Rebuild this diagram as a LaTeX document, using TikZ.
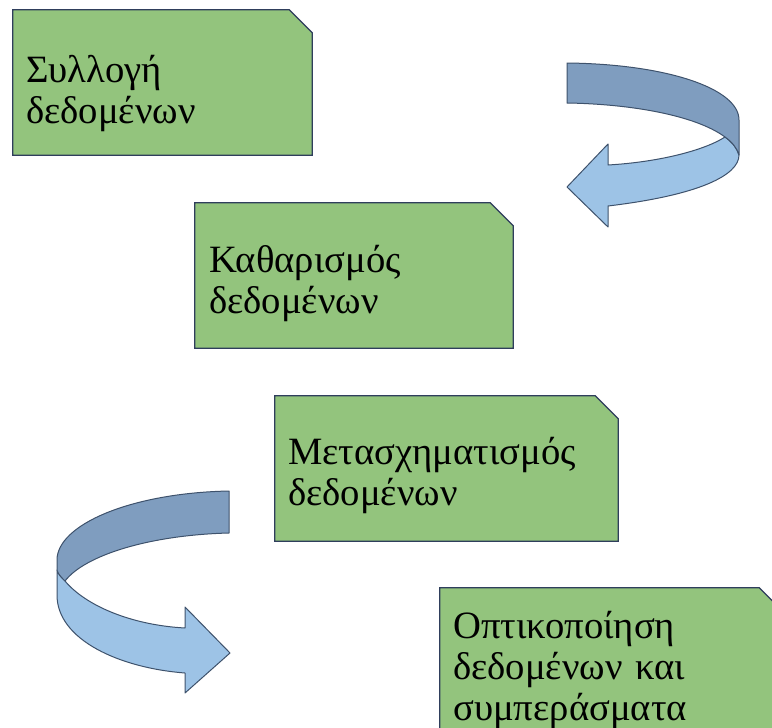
\documentclass[tikz,border=0pt]{standalone}
\usepackage{fontspec}
\setmainfont{Liberation Serif}

\definecolor{stepgreen}{RGB}{147,196,125}
\definecolor{stepline}{RGB}{47,62,92}
\definecolor{ribbondark}{RGB}{127,157,191}
\definecolor{ribbonlight}{RGB}{157,195,230}
\definecolor{ribbonline}{RGB}{62,82,108}

\begin{document}
\begin{tikzpicture}[x=0.75pt, y=-0.75pt]

  \tikzstyle{stage} = [rectangle, minimum height=108.75pt, inner sep=0pt]
  \tikzstyle{stageedge} = [draw=stepline, line width=1pt, fill=stepgreen, line join=miter]
  \tikzstyle{steptext} = [anchor=base west, inner sep=0pt, text width=260pt, align=left, font=\fontsize{29}{30.75}\selectfont]
  \tikzstyle{ribbon} = [draw=ribbonline, line width=0.75pt, line join=round]

  \useasboundingbox (0,0) rectangle (772,728);
  \clip (0,0) rectangle (772,728);

  \node (collect)   [stage, minimum width=224.25pt] at (162.5,82.5) {};
  \node (clean)     [stage, minimum width=238.5pt]  at (354,275.5) {};
  \node (transform) [stage, minimum width=257.25pt] at (446.5,468.5) {};
  \node (visualise) [stage, minimum width=256.5pt]  at (611,660.5) {};

  \filldraw [stageedge] (collect.south west) -- (collect.north west) -- ([xshift=-17.25pt]collect.north east) -- ([yshift=-17.25pt]collect.north east) -- (collect.south east) -- cycle;
  \filldraw [stageedge] (clean.south west) -- (clean.north west) -- ([xshift=-17.25pt]clean.north east) -- ([yshift=-17.25pt]clean.north east) -- (clean.south east) -- cycle;
  \filldraw [stageedge] (transform.south west) -- (transform.north west) -- ([xshift=-17.25pt]transform.north east) -- ([yshift=-17.25pt]transform.north east) -- (transform.south east) -- cycle;
  \filldraw [stageedge] (visualise.south west) -- (visualise.north west) -- ([xshift=-17.25pt]visualise.north east) -- ([yshift=-17.25pt]visualise.north east) -- (visualise.south east) -- cycle;

  \node (collecttext)   [steptext] at (26,82)   {Συλλογή\\δεδομένων};
  \node (cleantext)     [steptext] at (209,272) {Καθαρισμός\\δεδομένων};
  \node (transformtext) [steptext] at (288,464) {Μετασχηματισμός\\δεδομένων};
  \node (visualisetext) [steptext] at (453,638) {Οπτικοποίηση\\δεδομένων και\\συμπεράσματα};

  % ribbon from the first step to the second
  \draw [ribbon, fill=ribbonlight] (725,137) .. controls (732,142) and (737,148) .. (739,155)
    .. controls (739,175) and (700,195) .. (608,206) -- (608,227) -- (567,187) -- (608,144) -- (608,165)
    .. controls (660,162) and (705,150) .. (725,137) -- cycle;
  \draw [ribbon, fill=ribbondark] (567,63) .. controls (665,64) and (739,88) .. (739,120) -- (739,155)
    .. controls (737,148) and (732,142) .. (725,137) .. controls (695,115) and (630,104) .. (567,103) -- cycle;

  % ribbon from the third step to the fourth
  \draw [ribbon, fill=ribbonlight] (57,570) -- (57,595) .. controls (57,640) and (120,668) .. (185,673)
    -- (185,693) -- (230,653) -- (185,607) -- (185,628)
    .. controls (130,625) and (85,605) .. (65,581) .. controls (61,577) and (58,574) .. (57,570) -- cycle;
  \draw [ribbon, fill=ribbondark] (229,491) -- (229,533) .. controls (150,535) and (85,555) .. (65,581)
    .. controls (61,577) and (58,574) .. (57,570) -- (57,560) .. controls (57,525) and (130,493) .. (229,491) -- cycle;

\end{tikzpicture}
\end{document}
